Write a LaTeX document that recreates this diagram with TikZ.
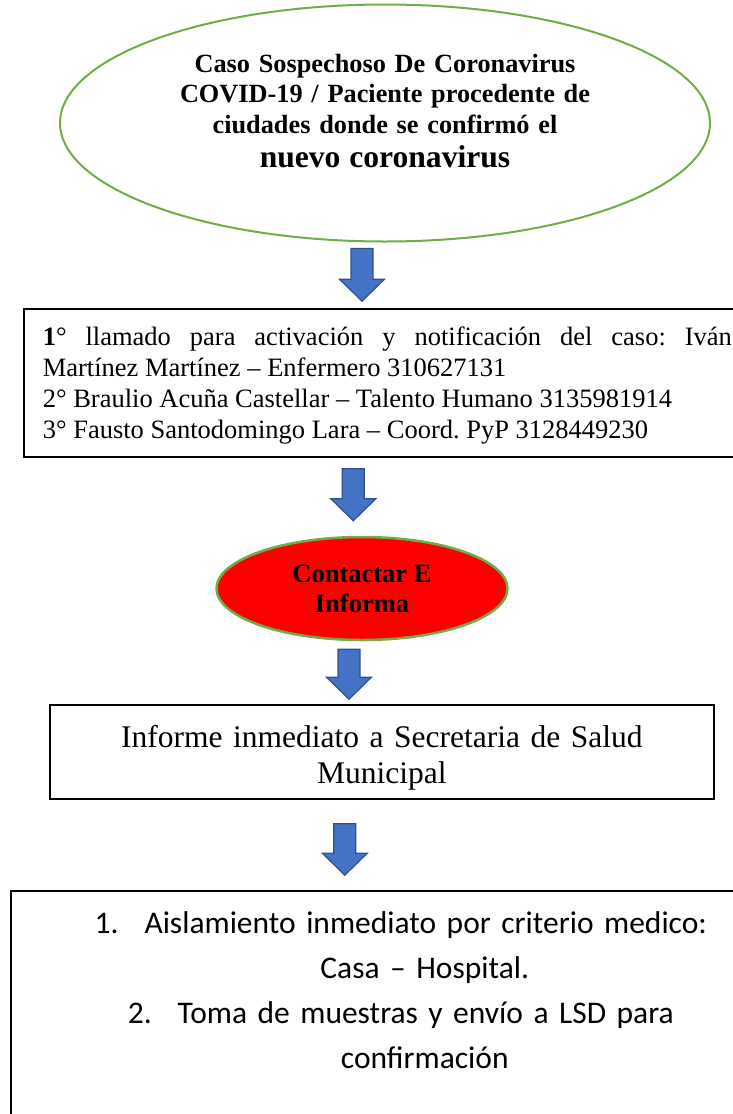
\documentclass[tikz,border=0pt]{standalone}
\usepackage{fontspec}
\setmainfont{Liberation Serif}
\newfontfamily\calibri{Carlito}
\usepackage{tikz}
\usetikzlibrary{shapes.geometric,calc}
\frenchspacing

\definecolor{ellgreen}{HTML}{70AD47}
\definecolor{arrowblue}{HTML}{4472C4}
\definecolor{arrowedge}{HTML}{2F528F}

\begin{document}
\begin{tikzpicture}[x=1pt, y=-1pt, box/.style={draw=black, line width=1.6pt, inner ysep=0pt}, oval/.style={ellipse, draw=ellgreen, inner sep=0pt, align=center}, blockarrow/.style={draw=arrowedge, fill=arrowblue, line width=1.2pt, line join=miter, to path={let \p1=(\tikztostart), \p2=(\tikztotarget) in (\x1-11pt,\y1) -- (\x1+11pt,\y1) -- (\x1+11pt,\y2+22pt) -- (\x1+22.5pt,\y2+22pt) -- (\x1,\y2) -- (\x1-22.5pt,\y2+22pt) -- (\x1-11pt,\y2+22pt) -- cycle}}]
        \useasboundingbox (0,0) rectangle (733,1114);
        \clip (0,0) rectangle (733,1114);
        \node[oval, line width=2pt, minimum width=650pt, minimum height=237pt, text width=440pt, text height=20pt, text depth=122pt, font=\bfseries\fontsize{26.3}{30.5}\selectfont] (suspect) at (385,123) {Caso Sospechoso De Coronavirus\\ COVID-19 / Paciente procedente de\\ ciudades donde se confirmó el\\[4pt] {\fontsize{31.6}{35}\selectfont nuevo coronavirus}};
        \node[box, anchor=base west, text width=689pt, align=justify, inner xsep=19pt, text height=36pt, text depth=112pt, font=\fontsize{26.5}{31}\selectfont] (calls) at (23,345) {{\bfseries 1}° llamado para activación y notificación del caso: Iván\linebreak Martínez Martínez – Enfermero 310627131\\ 2° Braulio Acuña Castellar – Talento Humano 3135981914\\ 3° Fausto Santodomingo Lara – Coord. PyP 3128449230};
        \node[oval, fill=red, line width=2.5pt, minimum width=291pt, minimum height=103pt, font=\bfseries\fontsize{26.5}{30}\selectfont] (contact) at (362,588.5) {Contactar E\\ Informa};
        \node[box, anchor=base west, text width=644pt, align=center, inner xsep=10pt, text height=42pt, text depth=52pt, font=\fontsize{31.5}{36}\selectfont] (report) at (49,747) {Informe inmediato a Secretaria de Salud\\ Municipal};
        \node[box, anchor=base west, text width=740pt, align=center, inner xsep=20pt, text height=42pt, text depth=200pt, font=\calibri\fontsize{31.5}{45}\selectfont] (actions) at (10,933) {1.\hspace{26pt}Aislamiento inmediato por criterio medico:\\ \hspace*{48pt}Casa – Hospital.\\ 2.\hspace{26pt}Toma de muestras y envío a LSD para\\ \hspace*{48pt}confirmación};
        \draw[blockarrow] ([xshift=-23pt,yshift=-6pt]suspect.south) to ([yshift=7pt]calls.north);
        \draw[blockarrow] ([xshift=-34pt,yshift=-11pt]calls.south) to ([yshift=15pt]contact.north);
        \draw[blockarrow] ([xshift=-13pt,yshift=-8pt]contact.south) to ([yshift=5pt]report.north);
        \draw[blockarrow] ([xshift=-37pt,yshift=-24pt]report.south) to ([yshift=15pt]actions.north);
    \end{tikzpicture}
\end{document}
